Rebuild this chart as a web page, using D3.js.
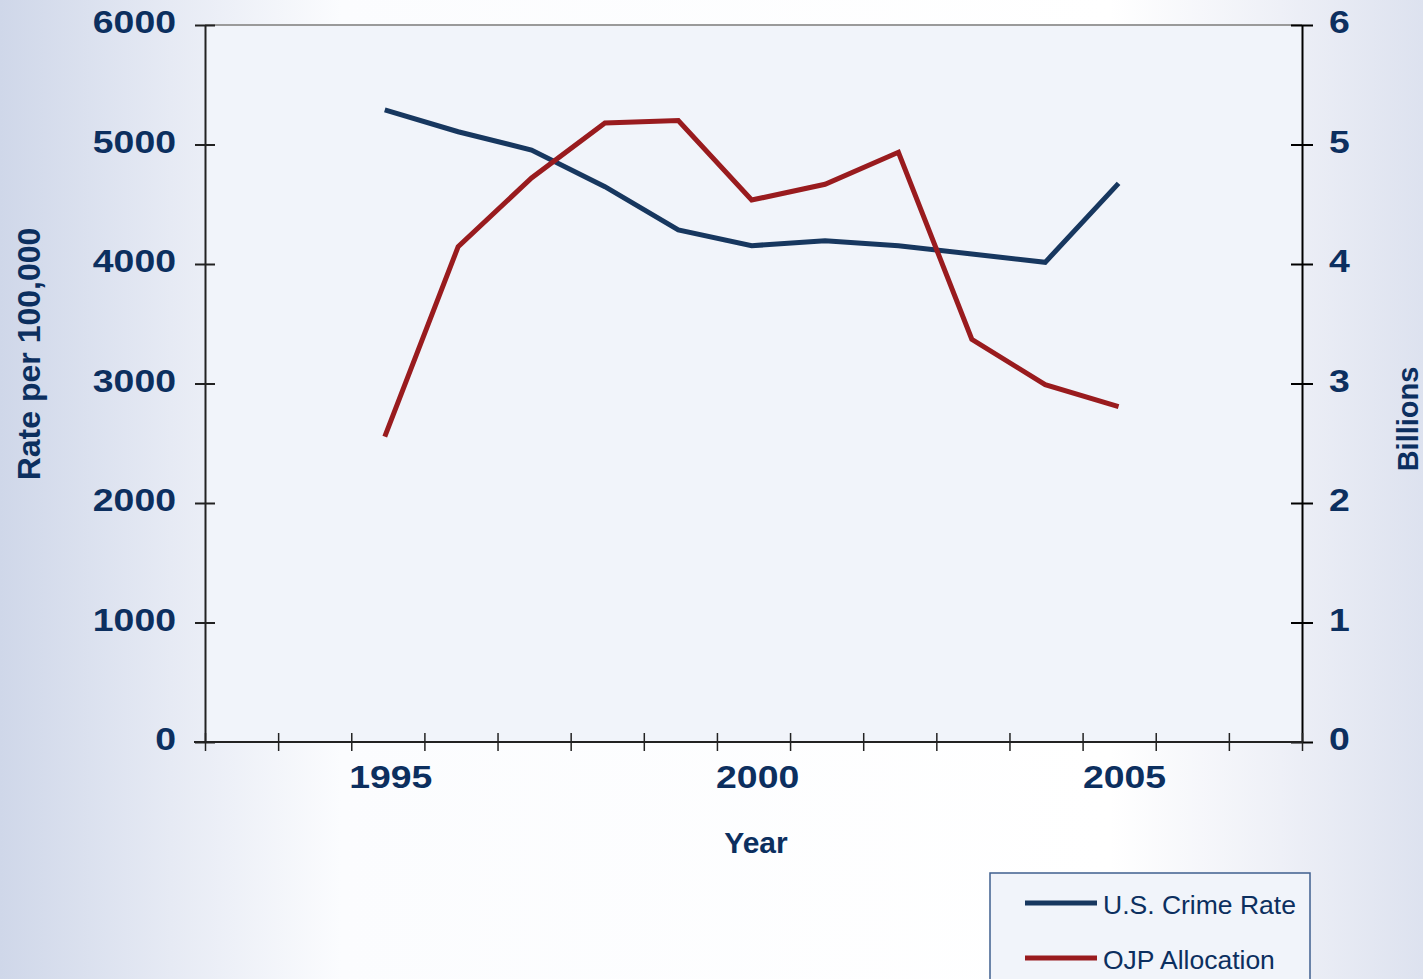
<!DOCTYPE html>
<html>
<head>
<meta charset="utf-8">
<script src="https://cdn.jsdelivr.net/npm/d3@7"></script>
<style>
    body { margin: 0; padding: 0; overflow: hidden; }
    svg { display: block; }
</style>
</head>
<body>
<script>
// values
var years = [1995, 1996, 1997, 1998, 1999, 2000, 2001, 2002, 2003, 2004, 2005];
var crimeRate = [5290, 5107, 4954, 4647, 4285, 4153, 4195, 4153, 4084, 4014, 4675];
var ojpAllocation = [2.555, 4.145, 4.72, 5.18, 5.20, 4.535, 4.667, 4.935, 3.37, 2.99, 2.806];
var leftTicks = [0, 1000, 2000, 3000, 4000, 5000, 6000];
var rightTicks = [0, 1, 2, 3, 4, 5, 6];
var yearLabels = [1995, 2000, 2005];
var seriesNames = ["U.S. Crime Rate", "OJP Allocation"];

function init() {
    var w = 1423;
    var h = 979;
    var navy = "#17375f";
    var red = "#991b1e";
    var textColor = "#0c2f5f";

    var svg = d3.select("body").append("svg").attr("width", w).attr("height", h);

    // background gradient
    var defs = svg.append("defs");
    var grad = defs.append("linearGradient").attr("id", "bg").attr("x1", "0%").attr("x2", "100%").attr("y1", "0%").attr("y2", "0%");
    grad.append("stop").attr("offset", "0%").attr("stop-color", "#cfd7e9");
    grad.append("stop").attr("offset", "12%").attr("stop-color", "#e6eaf4");
    grad.append("stop").attr("offset", "24%").attr("stop-color", "#fbfcfe");
    grad.append("stop").attr("offset", "78%").attr("stop-color", "#ffffff");
    grad.append("stop").attr("offset", "90%").attr("stop-color", "#eef0f7");
    grad.append("stop").attr("offset", "100%").attr("stop-color", "#dde2ef");
    svg.append("rect").attr("width", w).attr("height", h).attr("fill", "url(#bg)");

    var x = d3.scaleLinear().domain([1992.55, 2007.5]).range([205, 1302]);
    var yL = d3.scaleLinear().domain([0, 6000]).range([742, 25]);
    var yR = d3.scaleLinear().domain([0, 6]).range([742, 25]);

    // plot area
    svg.append("rect")
        .attr("x", x.range()[0]).attr("y", yL.range()[1])
        .attr("width", x.range()[1] - x.range()[0])
        .attr("height", yL.range()[0] - yL.range()[1])
        .attr("fill", "#f1f4fa");

    svg.append("line")
        .attr("x1", x.range()[0]).attr("x2", x.range()[1])
        .attr("y1", yL(6000)).attr("y2", yL(6000))
        .attr("stroke", "#9a9a9a").attr("stroke-width", 2);

    // tick labels: bold, stretched wide like the original
    function styleLabels(sel) {
        sel.selectAll("text")
            .style("font-family", "'Liberation Sans', Arial, sans-serif")
            .style("font-weight", "bold")
            .style("font-size", "31px")
            .attr("fill", textColor)
            .attr("lengthAdjust", "spacingAndGlyphs")
            .attr("textLength", function () { return this.textContent.length * 20.8; });
    }

    // left axis
    var leftAxis = svg.append("g")
        .attr("transform", "translate(" + x.range()[0] + ",0)")
        .call(d3.axisLeft(yL).tickValues(leftTicks).tickFormat(d3.format("d"))
            .tickSize(10).tickPadding(19).tickSizeOuter(0));
    leftAxis.select(".domain").attr("stroke", "#222").attr("stroke-width", 2);
    leftAxis.selectAll(".tick line").attr("x1", 10).attr("stroke", "#222").attr("stroke-width", 2);
    leftAxis.selectAll(".tick text").attr("dy", "0.25em");
    styleLabels(leftAxis);

    // right axis
    var rightAxis = svg.append("g")
        .attr("transform", "translate(" + x.range()[1] + ",0)")
        .call(d3.axisRight(yR).tickValues(rightTicks).tickFormat(d3.format("d"))
            .tickSize(11).tickPadding(16).tickSizeOuter(0));
    rightAxis.select(".domain").attr("stroke", "#000").attr("stroke-width", 2);
    rightAxis.selectAll(".tick line").attr("x1", -11).attr("stroke", "#000").attr("stroke-width", 2);
    rightAxis.selectAll(".tick text").attr("dy", "0.25em");
    styleLabels(rightAxis);

    // bottom axis: 15 category boundaries
    var d0 = x.domain()[0], d1 = x.domain()[1];
    var bounds = d3.range(16).map(function (i) { return d0 + i * (d1 - d0) / 15; });
    var bottomAxis = svg.append("g")
        .attr("transform", "translate(0," + yL(0) + ")")
        .call(d3.axisBottom(x).tickValues(bounds).tickSize(9).tickFormat("").tickSizeOuter(0));
    bottomAxis.select(".domain").attr("d", "M194,0H" + x.range()[1]).attr("stroke", "#222").attr("stroke-width", 2);
    bottomAxis.selectAll(".tick line").attr("y1", -9).attr("stroke", "#222").attr("stroke-width", 1.5);

    var yearGroup = svg.append("g");
    yearGroup.selectAll("text")
        .data(yearLabels)
        .enter()
        .append("text")
        .attr("x", function (d) { return x(d) + 6; })
        .attr("y", yL(0) + 46)
        .attr("text-anchor", "middle")
        .text(function (d) { return d; });
    styleLabels(yearGroup);

    // axis titles
    svg.append("text")
        .attr("transform", "translate(40,354) rotate(-90)")
        .attr("text-anchor", "middle")
        .style("font-family", "'Liberation Sans', Arial, sans-serif")
        .style("font-weight", "bold")
        .style("font-size", "32px")
        .attr("fill", textColor)
        .text("Rate per 100,000");

    svg.append("text")
        .attr("transform", "translate(1418,419) rotate(-90)")
        .attr("text-anchor", "middle")
        .style("font-family", "'Liberation Sans', Arial, sans-serif")
        .style("font-weight", "bold")
        .style("font-size", "29px")
        .attr("fill", textColor)
        .text("Billions");

    svg.append("text")
        .attr("x", 756)
        .attr("y", 853)
        .attr("text-anchor", "middle")
        .style("font-family", "'Liberation Sans', Arial, sans-serif")
        .style("font-weight", "bold")
        .style("font-size", "30px")
        .attr("fill", textColor)
        .text("Year");

    // lines
    var crimeLine = d3.line()
        .x(function (d, i) { return x(years[i]); })
        .y(function (d) { return yL(d); });
    var ojpLine = d3.line()
        .x(function (d, i) { return x(years[i]); })
        .y(function (d) { return yR(d); });

    svg.append("path")
        .datum(crimeRate)
        .attr("d", crimeLine)
        .attr("fill", "none")
        .attr("stroke", navy)
        .attr("stroke-width", 5);

    svg.append("path")
        .datum(ojpAllocation)
        .attr("d", ojpLine)
        .attr("fill", "none")
        .attr("stroke", red)
        .attr("stroke-width", 5);

    // legend
    var legend = svg.append("g").attr("class", "legend");
    legend.append("rect")
        .attr("x", 990).attr("y", 873)
        .attr("width", 320).attr("height", 130)
        .attr("fill", "#f1f4fa")
        .attr("stroke", "#3f5f8f")
        .attr("stroke-width", 1.5);

    var colors = [navy, red];
    seriesNames.forEach(function (name, i) {
        var ly = 903 + i * 55;
        legend.append("line")
            .attr("x1", 1025).attr("x2", 1097)
            .attr("y1", ly).attr("y2", ly)
            .attr("stroke", colors[i]).attr("stroke-width", 5);
        legend.append("text")
            .attr("x", 1103)
            .attr("y", ly + 11)
            .style("font-family", "'Liberation Sans', Arial, sans-serif")
            .style("font-size", "26.5px")
            .attr("fill", textColor)
            .text(name);
    });
}

window.onload = init;
</script>
</body>
</html>
